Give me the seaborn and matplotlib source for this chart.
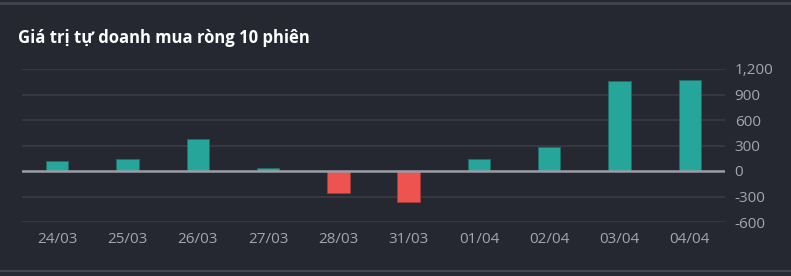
import matplotlib
matplotlib.use("Agg")
import matplotlib.pyplot as plt
import seaborn as sns
import pandas as pd
from matplotlib.lines import Line2D
from matplotlib.ticker import FuncFormatter

dates = ["24/03", "25/03", "26/03", "27/03", "28/03", "31/03", "01/04", "02/04", "03/04", "04/04"]
values = [123, 146, 380, 41, -263, -365, 143, 287, 1063, 1075]
yticks = [-600, -300, 0, 300, 600, 900, 1200]

BG = "#252830"
GRID = "#393c45"
TXT = "#a3a6b0"
UP = "#26a69a"
DOWN = "#ef5350"

sns.set_theme(style="dark")
plt.rcParams["font.family"] = ["Open Sans", "DejaVu Sans"]

df = pd.DataFrame({"date": dates, "value": values})
df["sign"] = ["up" if v >= 0 else "down" for v in values]

fig = plt.figure(figsize=(7.91, 2.76), dpi=100, facecolor=BG)
ax = fig.add_axes([22 / 791, 1 - 222 / 276, 703 / 791, 153 / 276])
ax.set_facecolor(BG)

sns.barplot(data=df, x="date", y="value", hue="sign", palette={"up": UP, "down": DOWN},
            width=0.32, dodge=False, legend=False, ax=ax, saturation=1,
            edgecolor="#1f6f68", linewidth=0.6, zorder=3)
for bar in ax.patches:
    if bar.get_height() < 0:
        bar.set_edgecolor("#a33a38")

ax.set_xlim(-0.5, len(dates) - 0.5)
ax.set_ylim(-600, 1200)
ax.set_yticks(yticks)
ax.yaxis.tick_right()
ax.yaxis.set_major_formatter(FuncFormatter(lambda v, p: f"{int(v):,}"))
ax.grid(axis="y", color=GRID, linewidth=1.2, zorder=0)
ax.grid(axis="x", visible=False)
ax.axhline(0, color="#9a9ca6", linewidth=1.8, zorder=4)
for s in ax.spines.values():
    s.set_visible(False)
ax.tick_params(axis="both", length=0, colors=TXT, labelsize=11)
ax.tick_params(axis="y", pad=7)
ax.tick_params(axis="x", pad=7)
ax.set_xlabel("")
ax.set_ylabel("")

fig.text(18 / 791, 1 - 38 / 276, "Giá trị tự doanh mua ròng 10 phiên", color="white",
         fontsize=12, fontweight="bold", va="center", ha="left",
         family=["Open Sans", "DejaVu Sans"])

fig.add_artist(Line2D([0, 1], [1 - 2.5 / 276] * 2, color="#42454e", linewidth=2, transform=fig.transFigure))
fig.add_artist(Line2D([0, 1], [1 - 271 / 276] * 2, color="#42454e", linewidth=1.5, transform=fig.transFigure))

fig.savefig("out.png", dpi=100, facecolor=BG)
